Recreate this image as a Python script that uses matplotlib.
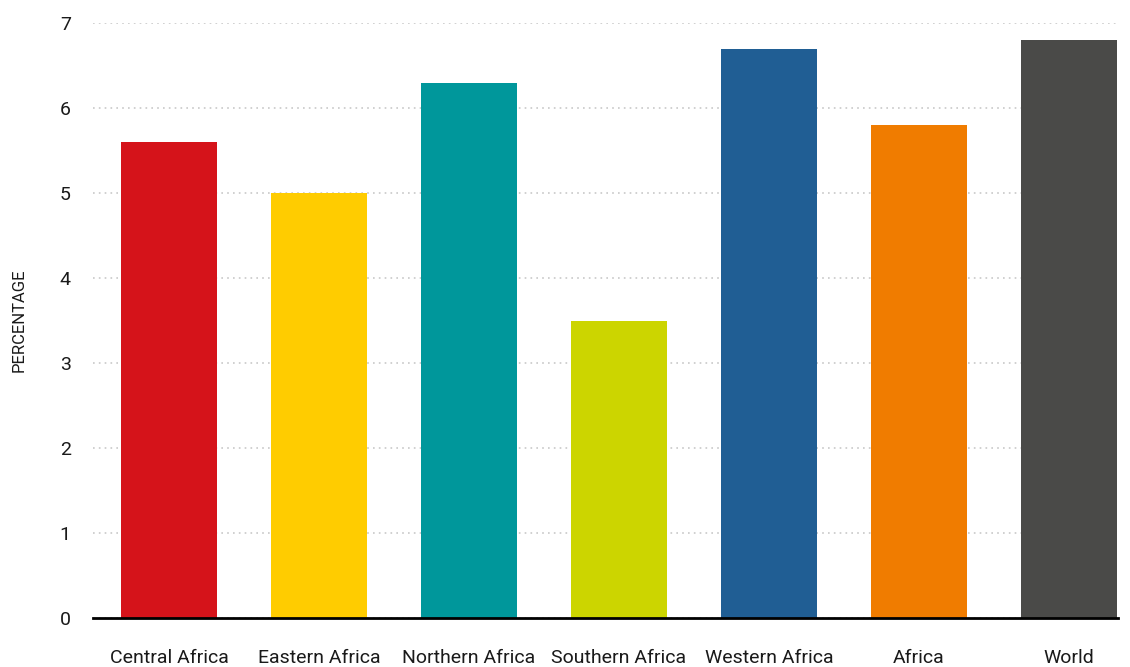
import matplotlib.pyplot as plt

regions = ["Central Africa", "Eastern Africa", "Northern Africa", "Southern Africa",
           "Western Africa", "Africa", "World"]
values = [5.6, 5.0, 6.3, 3.5, 6.7, 5.8, 6.8]
colors = ["#D5131A", "#FFCC00", "#00979B", "#CCD500", "#205E94", "#F07C00", "#4A4A48"]
y_ticks = [0, 1, 2, 3, 4, 5, 6, 7]

plt.rcParams["font.family"] = ["Roboto", "DejaVu Sans"]

fig = plt.figure(figsize=(11.3, 6.67), dpi=100)
ax = fig.add_axes([93 / 1130, 1 - 618 / 667, 1025 / 1130, 595 / 667])

x = range(len(regions))
ax.bar(x, values, width=0.64, color=colors, zorder=3)

ax.set_xlim(-0.507, 6.327)
ax.set_ylim(0, 7)
ax.set_yticks(y_ticks)
ax.set_yticklabels([str(t) for t in y_ticks], fontsize=14, color="#1a1a1a")
ax.set_xticks(list(x))
ax.set_xticklabels(regions, fontsize=14, color="#1a1a1a")
ax.tick_params(axis="both", length=0)
ax.tick_params(axis="y", pad=16)
ax.tick_params(axis="x", pad=22)

ax.grid(axis="y", color="#c8c8c8", linestyle=(0, (1, 2.5)), linewidth=1.2, zorder=0)
for side in ["top", "right", "left"]:
    ax.spines[side].set_visible(False)
ax.spines["bottom"].set_linewidth(2)
ax.spines["bottom"].set_color("black")
ax.spines["bottom"].set_zorder(4)

ax.set_ylabel("PERCENTAGE", fontsize=12, color="#1a1a1a", labelpad=24)

fig.savefig("out.png", dpi=100)
